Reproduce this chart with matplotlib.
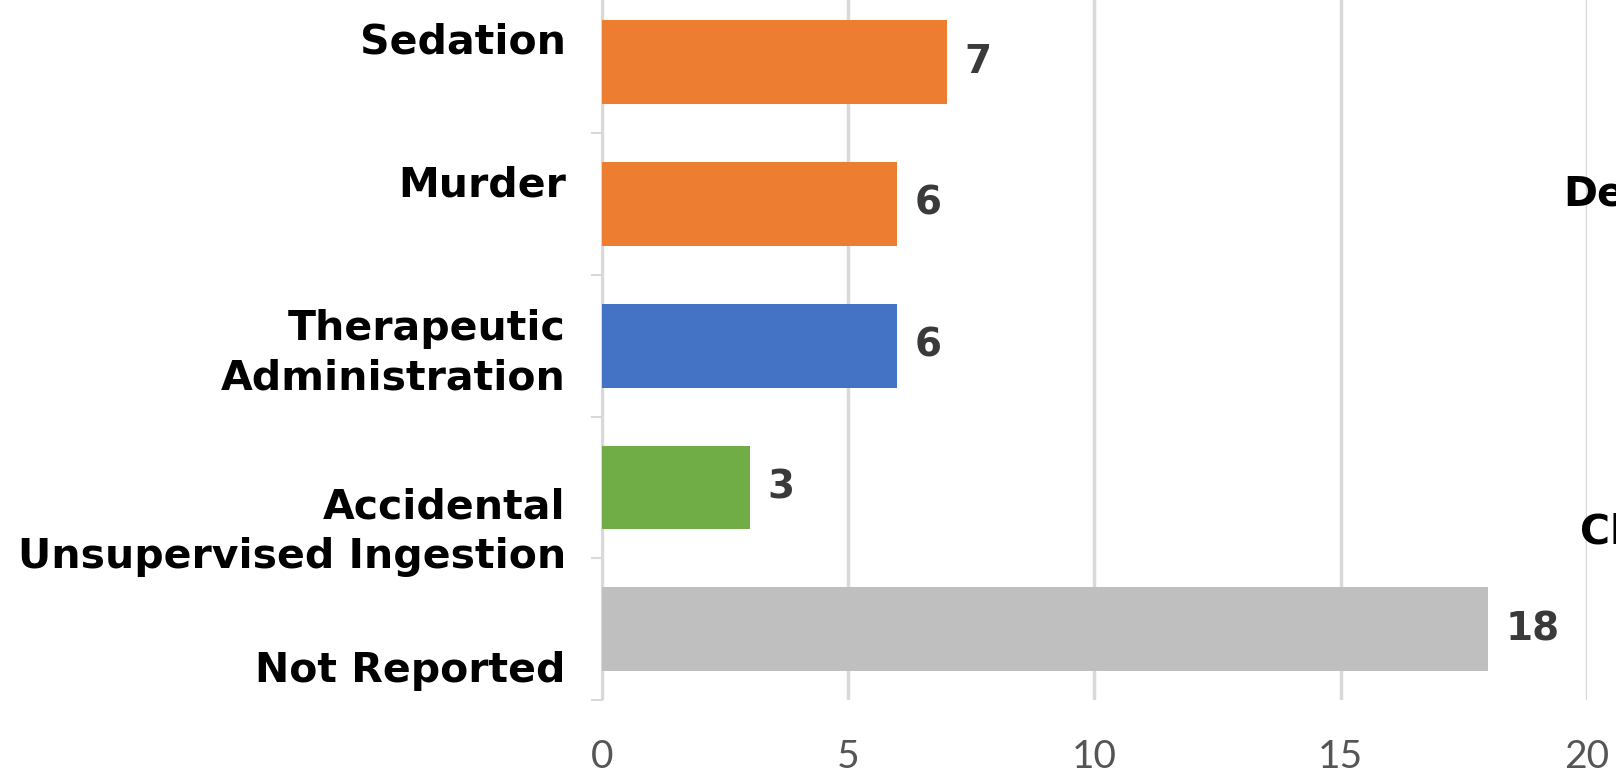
import numpy as np
import matplotlib
matplotlib.use("Agg")
import matplotlib.pyplot as plt
import matplotlib.transforms as mtransforms

# Data
categories = ["Sedation", "Murder", "Therapeutic\nAdministration",
              "Accidental\nUnsupervised Ingestion", "Not Reported"]
counts = [7, 6, 6, 3, 18]
colors = ["#ED7D31", "#ED7D31", "#4472C4", "#70AD47", "#BFBFBF"]
xticks = [0, 5, 10, 15, 20]

plt.rcParams['font.family'] = ['DejaVu Sans']

fig = plt.figure(figsize=(16.16, 7.78), dpi=100)
ax = fig.add_axes([0.3725, 0.1003, 0.6095, 0.9107])

y = np.arange(len(categories))
bars = ax.barh(y, counts, height=0.59, color=colors, zorder=3)

for b, v in zip(bars, counts):
    ax.text(b.get_width() + 0.35, b.get_y() + b.get_height() / 2, str(v),
            va='center', ha='left', fontsize=28, fontweight='bold',
            color='#3a3a3a')

ax.set_xlim(0, 20)
ax.set_ylim(len(categories) - 0.5, -0.5)
ax.set_xticks(xticks)
ax.set_xticklabels([str(t) for t in xticks], fontsize=28, color='#555555',
                   family='Lato')
ax.set_yticks(np.arange(len(categories) + 1) - 0.5)
ax.set_yticklabels([])

# category labels, a bit off the bar centres as in the original
label_shift = [14, 13, -6, -32, -30]
for yi, lab, dy in zip(y, categories, label_shift):
    tr = ax.get_yaxis_transform() + mtransforms.ScaledTranslation(
        -26 / 72, dy / 72, fig.dpi_scale_trans)
    ax.text(0, yi, lab, transform=tr, ha='right', va='center',
            fontsize=29.5, fontweight='bold', color='black',
            linespacing=1.3, multialignment='right')

ax.tick_params(axis='y', length=8, color='#d9d9d9', width=1.5)
ax.tick_params(axis='x', length=0, pad=28)
ax.grid(axis='x', color='#d9d9d9', linewidth=2.5, zorder=0)

for s in ['top', 'right', 'bottom']:
    ax.spines[s].set_visible(False)
ax.spines['left'].set_color('#d9d9d9')
ax.spines['left'].set_linewidth(1.5)

# cut-off labels of the neighbouring chart
fig.text(1563 / 1616, 1 - 195 / 778, "Dea", fontsize=29.5, fontweight='bold',
         va='center', ha='left')
fig.text(1580 / 1616, 1 - 532 / 778, "Ch", fontsize=29.5, fontweight='bold',
         va='center', ha='left')

fig.savefig("out.png", dpi=100)
